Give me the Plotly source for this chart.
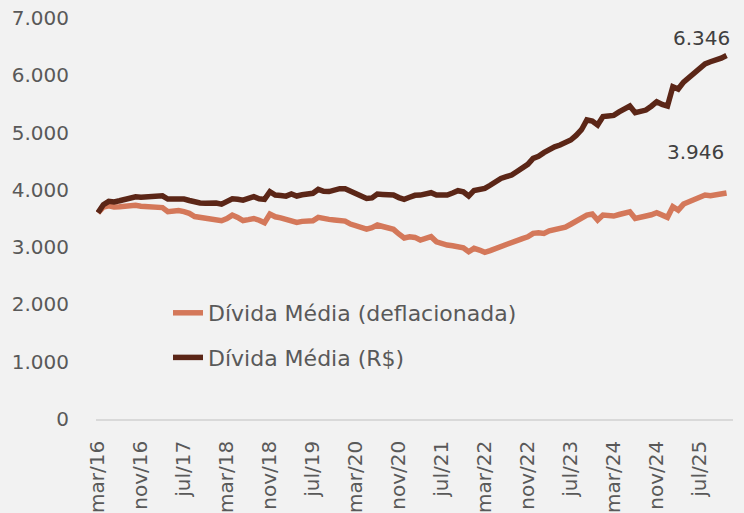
import plotly.graph_objects as go

# Monthly series, mar/16 .. dec/25 (values in R$)
divida_rs = [
    3600, 3740, 3800, 3790, 3810, 3840, 3860, 3880, 3870, 3875,
    3880, 3885, 3895, 3840, 3845, 3850, 3840, 3815, 3780, 3770,
    3765, 3775, 3770, 3750, 3800, 3845, 3835, 3820, 3850, 3880,
    3845, 3834, 3967, 3910, 3900, 3890, 3927, 3892, 3915, 3930,
    3940, 4008, 3975, 3970, 3995, 4020, 4020, 3975, 3930, 3870,
    3851, 3860, 3927, 3920, 3915, 3909, 3865, 3834, 3870, 3905,
    3909, 3920, 3950, 3909, 3905, 3909, 3945, 3985, 3965, 3892,
    3990, 4010, 4026, 4080, 4154, 4200, 4229, 4258, 4320, 4380,
    4445, 4550, 4585, 4650, 4710, 4750, 4782, 4830, 4870, 4950,
    5050, 5220, 5200, 5131, 5280, 5290, 5300, 5360, 5410, 5462,
    5346, 5370, 5393, 5460, 5538, 5490, 5462, 5800, 5760, 5880,
    5960, 6050, 6120, 6200, 6236, 6260, 6300, 6346,
]
divida_defl = [
    3600, 3700, 3720, 3700, 3705, 3715, 3725, 3729, 3715, 3705,
    3700, 3695, 3690, 3620, 3630, 3640, 3620, 3590, 3535, 3520,
    3505, 3500, 3480, 3461, 3500, 3560, 3520, 3465, 3480, 3500,
    3470, 3426, 3578, 3530, 3510, 3485, 3460, 3432, 3450, 3461,
    3461, 3520, 3495, 3485, 3475, 3461, 3455, 3403, 3370, 3330,
    3316, 3340, 3386, 3360, 3330, 3311, 3230, 3160, 3182, 3170,
    3124, 3150, 3182, 3094, 3060, 3037, 3025, 3019, 2990, 2920,
    2979, 2950, 2909, 2940, 2979, 3000, 3037, 3077, 3112, 3150,
    3180, 3240, 3251, 3240, 3286, 3300, 3320, 3350, 3400, 3461,
    3502, 3560, 3578, 3473, 3560, 3545, 3543, 3570, 3600, 3618,
    3502, 3515, 3531, 3565, 3600, 3550, 3520, 3705, 3647, 3752,
    3790, 3822, 3860, 3909, 3897, 3910, 3927, 3946,
]
month_index = list(range(len(divida_rs)))
tick_positions = list(range(0, len(divida_rs), 8))
tick_labels = ["mar/16", "nov/16", "jul/17", "mar/18", "nov/18", "jul/19",
               "mar/20", "nov/20", "jul/21", "mar/22", "nov/22", "jul/23",
               "mar/24", "nov/24", "jul/25"]
series_names = ["Dívida Média (deflacionada)", "Dívida Média (R$)"]
end_labels = ["3.946", "6.346"]

ORANGE = "#D4785A"
BROWN = "#5B2617"
BG = "#F2F2F2"
FONT = "DejaVu Sans"
TXT = "#595959"

fig = go.Figure()
fig.add_trace(go.Scatter(x=month_index, y=divida_defl, mode="lines",
                         name=series_names[0], legendgroup="a",
                         line=dict(color=ORANGE, width=5.5)))
fig.add_trace(go.Scatter(x=month_index, y=divida_rs, mode="lines",
                         name=series_names[1], legendgroup="b",
                         line=dict(color=BROWN, width=5.5)))

last = len(divida_rs) - 1
fig.add_annotation(x=last, y=divida_rs[-1], text=end_labels[1], showarrow=False,
                   xanchor="right", yanchor="middle", xshift=5, yshift=17,
                   font=dict(family=FONT, size=20, color="#404040"))
fig.add_annotation(x=last, y=divida_defl[-1], text=end_labels[0], showarrow=False,
                   xanchor="right", yanchor="middle", xshift=-1, yshift=41,
                   font=dict(family=FONT, size=20, color="#404040"))

fig.update_layout(
    width=744, height=513,
    margin=dict(l=96, r=11, t=18, b=94),
    paper_bgcolor=BG, plot_bgcolor=BG,
    separators=",.",
    font=dict(family=FONT, size=19, color=TXT),
    showlegend=True,
    legend=dict(x=(168 - 96) / 637, y=(419 - 292) / 401, xanchor="left", yanchor="top",
                bgcolor="rgba(0,0,0,0)", tracegroupgap=13,
                font=dict(family=FONT, size=22, color=TXT)),
    xaxis=dict(range=[-0.37, 118.2], tickmode="array", tickvals=tick_positions,
               ticktext=tick_labels, tickangle=-90, showgrid=False, zeroline=False,
               showline=True, linecolor="#D9D9D9", linewidth=1.5,
               ticks="outside", ticklen=12, tickcolor="rgba(0,0,0,0)",
               automargin=False, tickfont=dict(family=FONT, size=20, color=TXT)),
    yaxis=dict(range=[0, 7000], tickvals=[0, 1000, 2000, 3000, 4000, 5000, 6000, 7000],
               tickformat=",d", showgrid=False, zeroline=False, showline=False,
               ticks="outside", ticklen=22, tickcolor="rgba(0,0,0,0)", automargin=False,
               tickfont=dict(family=FONT, size=20, color=TXT)),
)

fig.write_html(
    "out.html",
    config={"displayModeBar": False},
    post_script="document.body.style.margin='0';document.body.style.background='#F2F2F2';",
)
